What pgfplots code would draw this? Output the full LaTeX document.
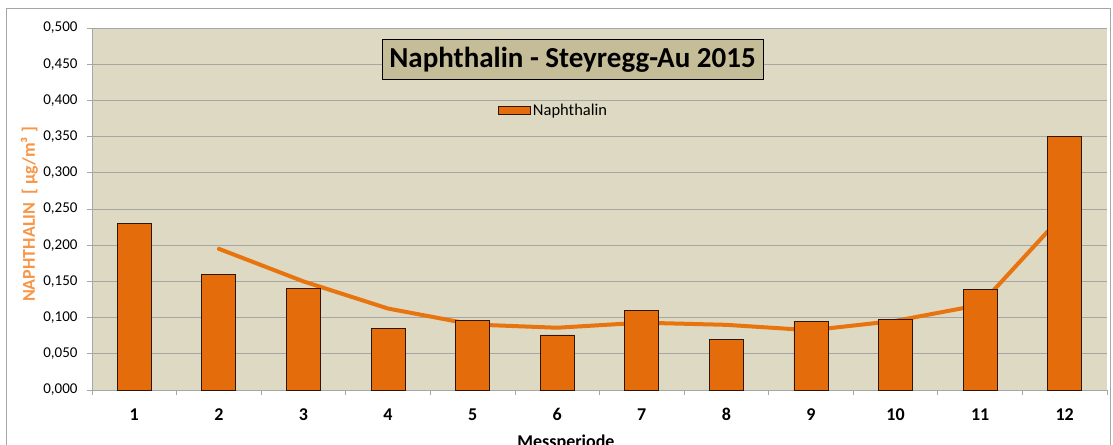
\documentclass[border=0pt]{standalone}
\usepackage{pgfplots}
\pgfplotsset{compat=1.18}
\usepackage{fontspec}
\setmainfont{Carlito}
\definecolor{bgc}{HTML}{DDD9C3}
\definecolor{barc}{HTML}{E46C0A}
\definecolor{linec}{HTML}{E8740F}
\definecolor{titlec}{HTML}{C4BD97}
\definecolor{ylabc}{HTML}{F79646}
\definecolor{gridc}{HTML}{A6A6A6}
\begin{document}
\begin{tikzpicture}
\begin{axis}[
  at={(0,0)}, anchor=south west,
  scale only axis, width=1015bp, height=362bp,
  xmin=0.5, xmax=12.5, ymin=0, ymax=0.5,
  axis background/.style={fill=bgc},
  axis x line*=bottom, axis y line*=left,
  axis line style={draw=gridc, line width=0.8bp},
  xtick={0.5,1.5,...,12.5},
  xticklabels={1,2,3,4,5,6,7,8,9,10,11,12},
  x tick label as interval,
  ytick={0,0.05,0.1,0.15,0.2,0.25,0.3,0.35,0.4,0.45,0.5},
  tick align=outside,
  major tick length=5bp,
  tick style={draw=gridc, line width=0.8bp},
  ymajorgrids,
  major grid style={draw=gridc, line width=0.8bp},
  yticklabel style={/pgf/number format/fixed, /pgf/number format/fixed zerofill,
    /pgf/number format/precision=3, /pgf/number format/use comma,
    /pgf/number format/assume math mode=true, font=\fontsize{15bp}{17bp}\selectfont, xshift=-6bp},
  xticklabel style={font=\fontsize{18bp}{20bp}\selectfont\bfseries, yshift=-10bp},
  legend style={at={(axis cs:5.3,0.386)}, anchor=west, draw=none, fill=none,
    font=\fontsize{16.5bp}{18bp}\selectfont, inner sep=0pt},
  legend image code/.code={\draw[fill=barc, draw=black!80!barc, line width=0.8bp] (0bp,-4bp) rectangle (32bp,4bp);},
  clip=false,
]
\addplot[sharp plot, color=linec, line width=4bp, line cap=round, line join=round, forget plot]
  coordinates {(2,0.195) (3,0.150) (4,0.1125) (5,0.0905) (6,0.086) (7,0.093) (8,0.090) (9,0.0825) (10,0.0955) (11,0.1175) (12,0.2445)};
\addplot[ybar, bar width=34bp, fill=barc, draw=black!80!barc, line width=0.8bp]
  coordinates {(1,0.230) (2,0.160) (3,0.140) (4,0.085) (5,0.096) (6,0.076) (7,0.110) (8,0.070) (9,0.095) (10,0.097) (11,0.139) (12,0.350)};
\addlegendentry{Naphthalin}
\node[fill=titlec, draw=black, line width=1bp, inner xsep=3bp, inner ysep=3bp, minimum width=381bp, minimum height=40bp,
  font=\fontsize{29bp}{32bp}\selectfont\bfseries] at (480.5bp,330bp) {Naphthalin - Steyregg-Au 2015};
\node[rotate=90, text=ylabc, font=\fontsize{18bp}{20bp}\selectfont\bfseries] at (-62.5bp,175.5bp) {NAPHTHALIN \ [ µg/m³ ]};
\node[anchor=base, font=\fontsize{18bp}{20bp}\selectfont\bfseries] at (474bp,-57bp) {Messperiode};
\end{axis}
\pgfresetboundingbox
\useasboundingbox (-92bp,-55bp) rectangle (1021bp,390bp);
\draw[draw=gridc, line width=1bp] (-85bp,-80bp) rectangle (1018bp,381bp);
\end{tikzpicture}
\end{document}
